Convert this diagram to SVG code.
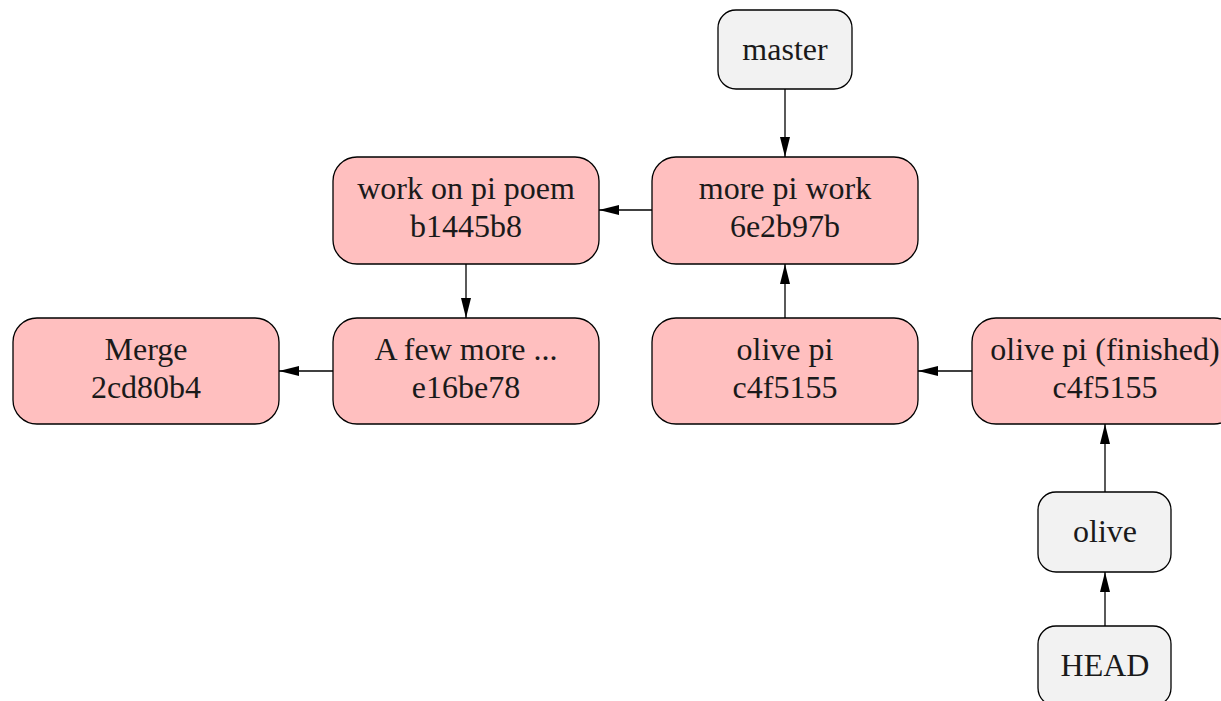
<svg xmlns="http://www.w3.org/2000/svg" width="1221" height="701" viewBox="0 0 1221 701">
  <style>
    .commit { fill: #ffbfbf; stroke: #000; stroke-width: 1.3; }
    .ref { fill: #f2f2f2; stroke: #000; stroke-width: 1.3; }
    text { font-family: "Liberation Serif", "DejaVu Serif", serif; font-size: 32px; fill: #1a1a1a; text-anchor: middle; }
    .edge { stroke: #000; stroke-width: 1.3; fill: none; marker-end: url(#arrow); }
  </style>
  <defs>
    <marker id="arrow" viewBox="0 0 20 10" refX="20" refY="5" markerWidth="20" markerHeight="10" markerUnits="userSpaceOnUse" orient="auto">
      <path d="M0,0 L20,5 L0,10 Z" fill="#000"/>
    </marker>
  </defs>

  <g id="connectors">
    <line class="edge" x1="785" y1="89" x2="785" y2="157"/>
    <line class="edge" x1="652" y1="210" x2="599" y2="210"/>
    <line class="edge" x1="466" y1="264" x2="466" y2="318"/>
    <line class="edge" x1="333" y1="371" x2="279" y2="371"/>
    <line class="edge" x1="785" y1="318" x2="785" y2="264"/>
    <line class="edge" x1="972" y1="371" x2="918" y2="371"/>
    <line class="edge" x1="1105" y1="492" x2="1105" y2="424"/>
    <line class="edge" x1="1105" y1="626" x2="1105" y2="572"/>
  </g>

  <g id="master">
    <rect class="ref" x="718" y="10" width="134" height="79" rx="18"/>
    <text x="785" y="60">master</text>
  </g>

  <g id="c6e2b97b">
    <rect class="commit" x="652" y="157" width="266" height="107" rx="24"/>
    <text x="785" y="199">more pi work</text>
    <text x="785" y="237">6e2b97b</text>
  </g>

  <g id="cb1445b8">
    <rect class="commit" x="333" y="157" width="266" height="107" rx="24"/>
    <text x="466" y="199">work on pi poem</text>
    <text x="466" y="237">b1445b8</text>
  </g>

  <g id="c2cd80b4">
    <rect class="commit" x="13" y="318" width="266" height="106" rx="24"/>
    <text x="146" y="360">Merge</text>
    <text x="146" y="398">2cd80b4</text>
  </g>

  <g id="ce16be78">
    <rect class="commit" x="333" y="318" width="266" height="106" rx="24"/>
    <text x="466" y="360">A few more ...</text>
    <text x="466" y="398">e16be78</text>
  </g>

  <g id="cc4f5155">
    <rect class="commit" x="652" y="318" width="266" height="106" rx="24"/>
    <text x="785" y="360">olive pi</text>
    <text x="785" y="398">c4f5155</text>
  </g>

  <g id="cc4f5155-finished">
    <rect class="commit" x="972" y="318" width="266" height="106" rx="24"/>
    <text x="1105" y="360">olive pi (finished)</text>
    <text x="1105" y="398">c4f5155</text>
  </g>

  <g id="olive">
    <rect class="ref" x="1038" y="492" width="133" height="80" rx="18"/>
    <text x="1105" y="542">olive</text>
  </g>

  <g id="HEAD">
    <rect class="ref" x="1038" y="626" width="133" height="80" rx="18"/>
    <text x="1105" y="676">HEAD</text>
  </g>
</svg>
